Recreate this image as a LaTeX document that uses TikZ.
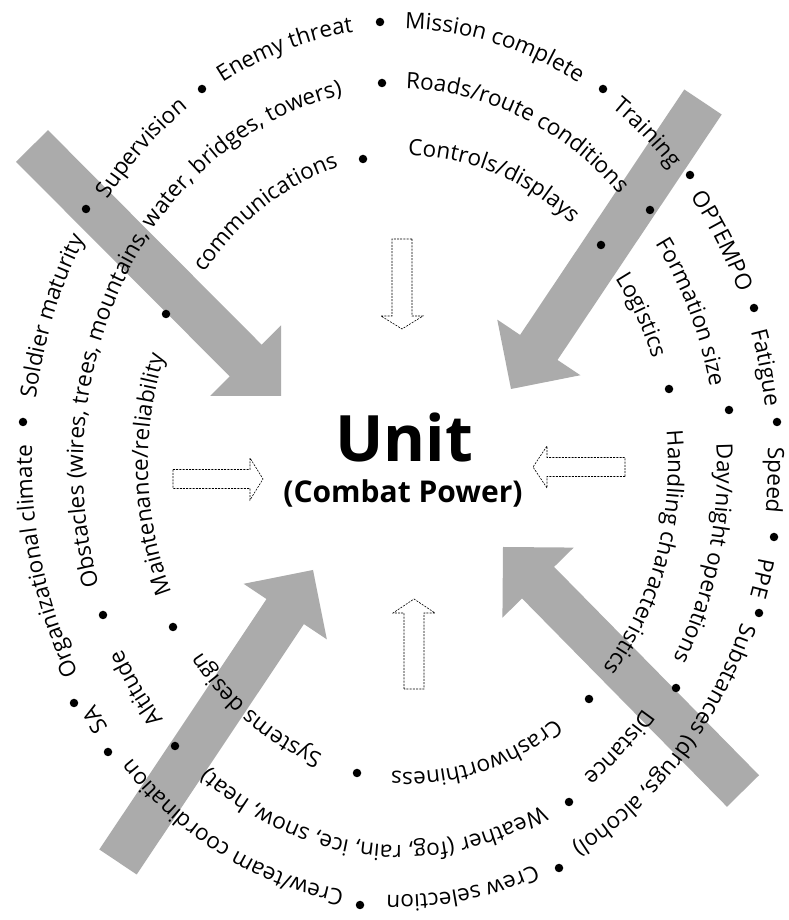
\documentclass[tikz,border=0pt]{standalone}
\usepackage{fontspec}
\setmainfont{Open Sans}
\usetikzlibrary{calc,decorations.text}

% font of the labels that run round the rings
\newcommand\ringfont{\fontsize{22.5}{27}\selectfont}

% label set along an ellipse, clockwise, starting near point (#5,#6)
% #1,#2 centre  #3,#4 semi-axes  #7 text
\newcommand\ringtext[7]{%
  \pgfmathsetmacro\rtstart{atan2((#6-#2)/#4,(#5-#1)/#3)}%
  \pgfmathsetmacro\rtend{\rtstart-230}%
  \path[decorate,decoration={text along path,text align=left,text={|\ringfont|#7}}]
    ([shift={(#1,#2)}]\rtstart:#3 and #4)
    arc[start angle=\rtstart,end angle=\rtend,x radius=#3,y radius=#4];
}

% block arrow from (#1-tail) to (#1-tip)
% #2 style  #3 half shaft width  #4 half head width  #5 head length
\newcommand\fatarrow[5]{%
  \coordinate (#1-neck) at ($(#1-tip)!#5!(#1-tail)$);
  \path[#2] ($(#1-tail)!#3!90:(#1-tip)$)
    -- ($(#1-neck)!#3!90:(#1-tip)$)
    -- ($(#1-neck)!#4!90:(#1-tip)$)
    -- (#1-tip)
    -- ($(#1-neck)!#4!-90:(#1-tip)$)
    -- ($(#1-neck)!#3!-90:(#1-tip)$)
    -- ($(#1-tail)!#3!-90:(#1-tip)$) -- cycle;
}

\begin{document}
\begin{tikzpicture}[x=1pt,y=1pt,
  dot/.style={circle,fill=black,inner sep=0pt,minimum size=8.5pt},
  bigarrow/.style={fill=black!33},
  openarrow/.style={draw=black,fill=white,line width=0.6pt,dash pattern=on 2pt off 1.2pt}]
\useasboundingbox (0,0) rectangle (788,920);
\fill[white] (0,0) rectangle (788,920);

% four shaded arrows pointing at the unit
\coordinate (tl-tail) at (32,774);  \coordinate (tl-tip) at (281,524);
\coordinate (tr-tail) at (703,818); \coordinate (tr-tip) at (511,531);
\coordinate (br-tail) at (743,129); \coordinate (br-tip) at (503,373);
\coordinate (bl-tail) at (118,58);  \coordinate (bl-tip) at (313,350);
\fatarrow{tl}{bigarrow}{22.5pt}{50pt}{50pt}
\fatarrow{tr}{bigarrow}{22.5pt}{50pt}{50pt}
\fatarrow{br}{bigarrow}{22.5pt}{50pt}{50pt}
\fatarrow{bl}{bigarrow}{22.5pt}{50pt}{50pt}

% four open dashed arrows
\coordinate (up-tail) at (402,681);   \coordinate (up-tip) at (402,591);
\coordinate (lf-tail) at (173,441);   \coordinate (lf-tip) at (263,441);
\coordinate (rt-tail) at (625,453);   \coordinate (rt-tip) at (533,453);
\coordinate (dn-tail) at (414,231);   \coordinate (dn-tip) at (414,321);
\fatarrow{up}{openarrow}{10pt}{21pt}{13pt}
\fatarrow{lf}{openarrow}{9.5pt}{21pt}{13pt}
\fatarrow{rt}{openarrow}{9.5pt}{21pt}{14pt}
\fatarrow{dn}{openarrow}{10pt}{21pt}{14pt}

% centre
\node[anchor=base,font=\fontsize{64}{70}\selectfont\bfseries] (unit) at (404,458) {Unit};
\node[anchor=base,font=\fontsize{30}{36}\selectfont\bfseries] (power) at (403,417) {(Combat Power)};

% outer ring
\ringtext{400}{458}{368}{433}{405}{902}{Mission complete}
\ringtext{400}{458}{368}{433}{618}{823}{Training}
\ringtext{400}{458}{368}{433}{698}{730}{OPTEMPO}
\ringtext{400}{458}{368}{433}{760}{592}{Fatigue}
\ringtext{400}{458}{368}{433}{776}{473}{Speed}
\ringtext{400}{458}{368}{433}{768}{360}{PPE}
\ringtext{400}{458}{368}{433}{763}{287}{Substances (drugs, alcohol)}
\ringtext{400}{458}{368}{433}{540}{40}{Crew selection}
\ringtext{400}{458}{368}{433}{343}{20}{Crew/team coordination}
\ringtext{400}{458}{368}{433}{97}{182}{SA}
\ringtext{400}{458}{368}{433}{65}{237}{Organizational climate}
\ringtext{400}{458}{368}{433}{25}{523}{Soldier maturity}
\ringtext{400}{458}{368}{433}{100}{727}{Supervision}
\ringtext{400}{458}{368}{433}{220}{843}{Enemy threat}
\foreach \p [count=\i] in {(380,898),(603,831),(690,745),(754,612),(777,498),(774,383),(759,307),
                          (559,52),(360,15),(108,168),(74,217),(23,498),(86,711),(202,831)}
  \node[dot] (outer-\i) at \p {};

% middle ring
\ringtext{400}{453}{317}{378}{406}{845}{Roads/route conditions}
\ringtext{400}{453}{317}{378}{668}{687}{Formation size}
\ringtext{400}{453}{317}{378}{728}{477}{Day/night operations}
\ringtext{400}{453}{317}{378}{655}{200}{Distance}
\ringtext{400}{453}{317}{378}{547}{102}{Weather (fog, rain, ice, snow, heat)}
\ringtext{400}{453}{317}{378}{160}{197}{Altitude}
\ringtext{400}{453}{317}{378}{88}{330}{Obstacles (wires, trees, mountains, water, bridges, towers)}
\foreach \p [count=\i] in {(382,837),(650,710),(729,510),(676,232),(569,118),(175,174),(103,305)}
  \node[dot] (middle-\i) at \p {};

% inner ring
\ringtext{408}{456}{260}{308}{408}{777}{Controls/displays}
\ringtext{408}{456}{260}{308}{621}{647}{Logistics}
\ringtext{408}{456}{260}{308}{671}{490}{Handling characteristics}
\ringtext{408}{456}{260}{308}{560}{193}{Crashworthiness}
\ringtext{408}{456}{260}{308}{322}{163}{Systems design}
\ringtext{408}{456}{260}{308}{157}{320}{Maintenance/reliability}
\ringtext{408}{456}{260}{308}{187}{663}{communications}
\foreach \p [count=\i] in {(363,761),(601,675),(669,531),(589,221),(357,147),(173,293),(166,606)}
  \node[dot] (inner-\i) at \p {};
\end{tikzpicture}
\end{document}
